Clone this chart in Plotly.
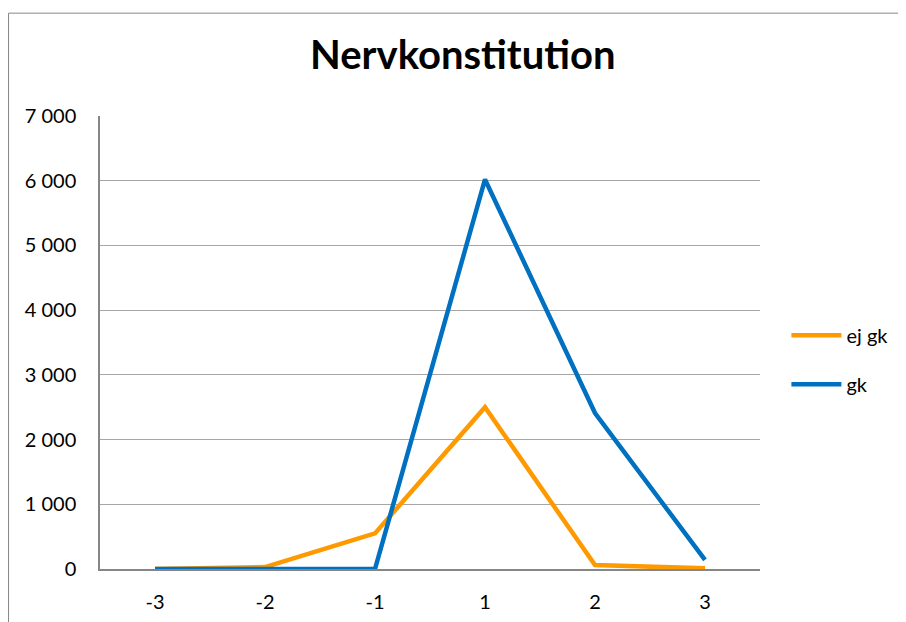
import plotly.graph_objects as go

categories = ["-3", "-2", "-1", "1", "2", "3"]
ej_gk = [0, 30, 550, 2500, 60, 10]
gk = [0, 0, 0, 6020, 2410, 140]
series_names = ["ej gk", "gk"]
colors = ["#FF9900", "#0070C0"]

fig = go.Figure()
for name, vals, col in zip(series_names, [ej_gk, gk], colors):
    fig.add_trace(go.Scatter(x=categories, y=vals, mode="lines", name=name,
                             legendgroup=name,
                             line=dict(color=col, width=4.5)))

fig.update_layout(
    width=906, height=622,
    margin=dict(l=92, r=154, t=108, b=61),
    paper_bgcolor="white", plot_bgcolor="white",
    separators=", ",
    title=dict(text="<b>Nervkonstitution</b>", x=0.502, xanchor="center",
               y=0.925, yanchor="middle",
               font=dict(family="Lato, Open Sans, sans-serif", size=40, color="black")),
    font=dict(family="Lato, Open Sans, sans-serif", size=20, color="black"),
    legend=dict(x=1.04, y=0.462, xanchor="left", yanchor="middle",
                font=dict(size=20), tracegroupgap=20, itemwidth=50),
    showlegend=True,
    shapes=[dict(type="rect", xref="paper", yref="paper",
                 x0=-0.1386, y0=-0.5, x1=1.5, y1=1.227,
                 line=dict(color="#888888", width=1), fillcolor="rgba(0,0,0,0)",
                 layer="below")],
)
fig.update_xaxes(type="category", range=[-0.5, 5.5], showgrid=False,
                 showline=True, linecolor="#868686", linewidth=1.5,
                 ticks="", ticklen=0, tickfont=dict(size=20),
                 ticklabelstandoff=14)
fig.update_yaxes(range=[0, 7000], dtick=1000, tickformat=",d",
                 showgrid=True, gridcolor="#A6A6A6", gridwidth=1,
                 showline=True, linecolor="#868686", linewidth=1.5,
                 zeroline=False, ticks="", tickfont=dict(size=20),
                 ticklabelstandoff=18)

fig.write_html("out.html")
